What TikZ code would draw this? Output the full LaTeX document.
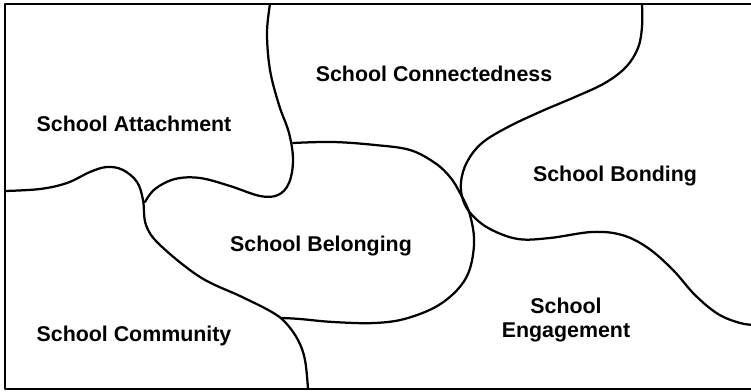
\documentclass[tikz,border=0pt]{standalone}
\usepackage{fontspec}
\setmainfont{Liberation Sans}

\begin{document}
\begin{tikzpicture}[x=0.025cm, y=-0.025cm, line cap=round, line join=round,
  frame/.style={line width=2.1pt},
  border/.style={line width=1.6pt},
  term/.style={font=\fontsize{15.2pt}{17pt}\selectfont\bfseries, inner sep=0pt, align=center}]
  \useasboundingbox (0,0) rectangle (751,392);

  % Outer frame (open on the right)
  \draw[frame] (755,4) -- (5,4) -- (5,389) -- (755,389);

  % Attachment / Community boundary, running down to the bottom edge
  \draw[border] plot[smooth, tension=0.6] coordinates {
    (5,191) (40,189) (67,183) (90,172) (107,167) (123,170) (137,182)
    (143,200) (146,225) (160,245) (200,277) (240,296) (270,311)
    (285,322) (298,340) (305,360) (308,389)};

  % Attachment / Connectedness, bending into the top of Belonging
  \draw[border] plot[smooth, tension=0.6] coordinates {
    (270,4) (267,33) (270,70) (279,105) (289,133) (293,160) (289,183)
    (278,195) (260,196) (230,186) (200,178) (175,179) (155,189) (145,202)};

  % Belonging outline (top, right side, bottom)
  \draw[border] plot[smooth, tension=0.6] coordinates {
    (293,143) (333,142) (375,145) (410,150) (435,163) (450,177)
    (460,193) (470,215) (474,245) (466,278) (442,303) (408,318)
    (375,323) (333,322) (300,319) (282,318)};

  % Connectedness / Bonding and Bonding / Engagement
  \draw[border] plot[smooth, tension=0.6] coordinates {
    (642,4) (642,27) (638,48) (626,67) (605,83) (575,97) (542,111)
    (508,127) (482,143) (467,162) (461,182) (463,200) (472,215)
    (490,229) (518,239) (550,238) (592,232) (622,235) (648,248)
    (673,270) (695,295) (718,314) (740,323) (755,325)};

  % Labels
  \node[term, anchor=base] (attach)  at (134,132) {School Attachment};
  \node[term, anchor=base] (connect) at (434,82)  {School Connectedness};
  \node[term, anchor=base] (bond)    at (615,182) {School Bonding};
  \node[term, anchor=base] (belong)  at (321,252) {School Belonging};
  \node[term, anchor=base] (commun)  at (134,342) {School Community};
  \node[term] (engage) at (566,320) {School\\Engagement};

\end{tikzpicture}
\end{document}
